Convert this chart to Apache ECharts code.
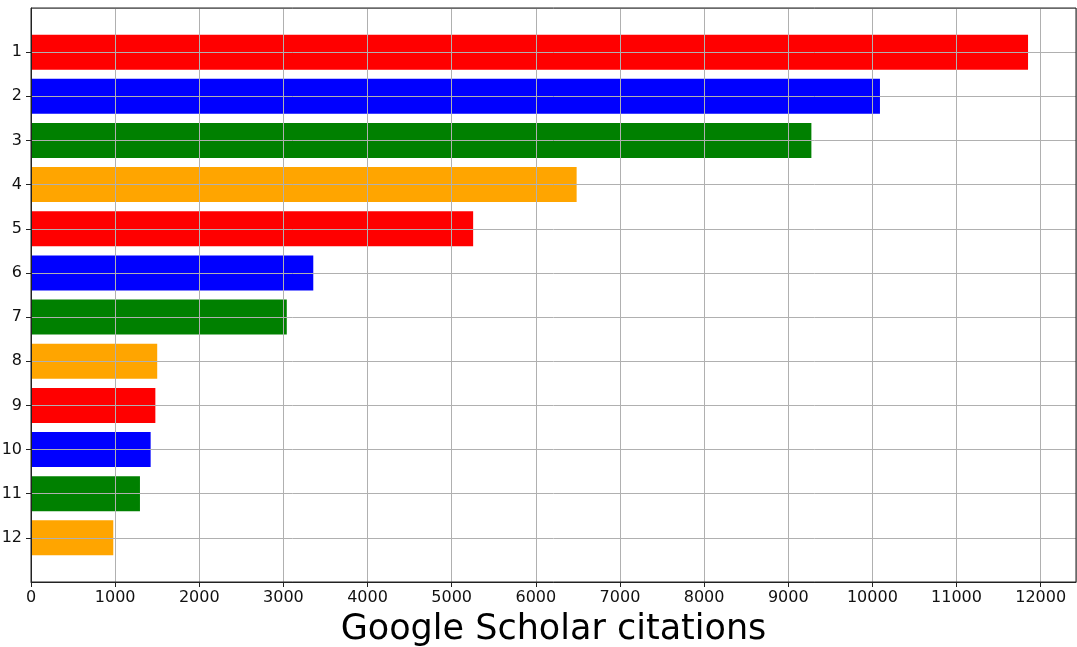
<!DOCTYPE html>
<html>
<head>
<meta charset="utf-8">
<script src="https://cdn.jsdelivr.net/npm/echarts@6/dist/echarts.min.js"></script>
<style>
    html, body { margin: 0; padding: 0; background: #fff; }
    #chart { width: 1077px; height: 647px; }
</style>
</head>
<body>
<div id="chart"></div>
<script>
const ranks = ['1', '2', '3', '4', '5', '6', '7', '8', '9', '10', '11', '12'];
const citations = [11850, 10090, 9275, 6485, 5255, 3355, 3040, 1500, 1478, 1422, 1295, 978];
const barColors = ['red', 'blue', 'green', 'orange'];
const xTicks = [0, 1000, 2000, 3000, 4000, 5000, 6000, 7000, 8000, 9000, 10000, 11000, 12000];
const xTitle = 'Google Scholar citations';

const font = '"DejaVu Sans", sans-serif';

// empty slots at both ends stand in for matplotlib's axis margins
const yCats = ['', ...ranks, ' '];
const isRank = i => i > 0 && i < yCats.length - 1;

const chart = echarts.init(document.getElementById('chart'));

const chartOptions = {
    animation: false,
    grid: {
        left: 31,
        right: 1,
        top: 8,
        bottom: 65,
        outerBoundsMode: 'none',
        containLabel: false,
        show: true,
        borderColor: '#222',
        borderWidth: 1,
        z: 10
    },
    xAxis: {
        type: 'value',
        min: 0,
        max: 12420,
        interval: 1000,
        z: 5,
        name: xTitle,
        nameLocation: 'middle',
        nameGap: 30,
        nameTextStyle: {
            fontFamily: font,
            fontSize: 35,
            color: '#000',
            verticalAlign: 'top'
        },
        axisLine: { show: true, lineStyle: { color: '#222', width: 1 } },
        axisTick: { show: true, length: 5, lineStyle: { color: '#222' } },
        axisLabel: {
            fontFamily: font,
            fontSize: 16,
            color: '#111',
            margin: 8,
            showMaxLabel: false,
            formatter: v => xTicks.includes(v) ? String(v) : ''
        },
        splitLine: { show: true, lineStyle: { color: '#b0b0b0', width: 1 } }
    },
    yAxis: {
        type: 'category',
        inverse: true,
        boundaryGap: false,
        data: yCats,
        z: 5,
        axisLine: { show: true, lineStyle: { color: '#222', width: 1 } },
        axisTick: { show: true, length: 5, alignWithLabel: true, interval: isRank, lineStyle: { color: '#222' } },
        axisLabel: {
            fontFamily: font,
            fontSize: 16,
            color: '#111',
            margin: 9,
            interval: 0
        },
        splitLine: { show: true, interval: 0, lineStyle: { color: '#b0b0b0', width: 1 } }
    },
    series: [
        {
            type: 'bar',
            z: 1,
            barWidth: 35,
            data: [null, ...citations.map((c, i) => ({
                value: c,
                itemStyle: { color: barColors[i % barColors.length] }
            })), null]
        }
    ]
};

chart.setOption(chartOptions);
</script>
</body>
</html>
